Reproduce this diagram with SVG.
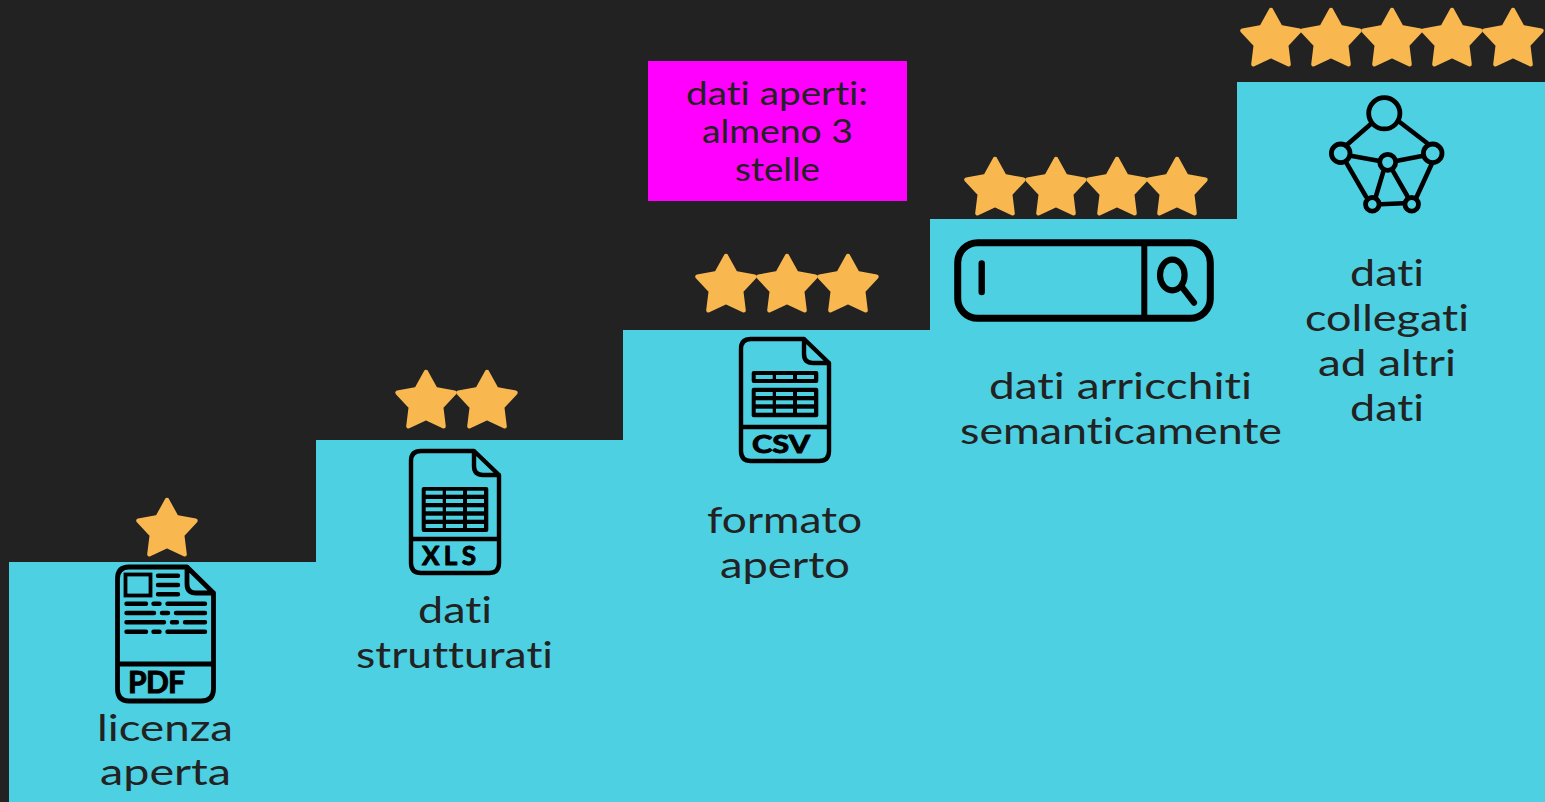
<svg xmlns="http://www.w3.org/2000/svg" xmlns:xlink="http://www.w3.org/1999/xlink" width="1545" height="802" viewBox="0 0 1545 802">
<style>
text{font-variant-ligatures:none}
.lbl{font-family:"Lato","Noto Sans",sans-serif;font-size:37px;fill:#222222}
.note{font-family:"Lato","Noto Sans",sans-serif;font-size:33px;fill:#222222}
.tag{font-family:"Lato","Liberation Sans",sans-serif;font-weight:700;fill:#000;stroke:#000;stroke-width:1;stroke-linejoin:round}
.ln{fill:none;stroke:#000;stroke-linecap:round;stroke-linejoin:round}
.s{fill:#4dd0e1}
.k{fill:#000}
.st{fill:#f9b84f;stroke:#f9b84f;stroke-width:4.4;stroke-linejoin:round}
</style>
<defs>
<path id="star" class="st" d="M0-30 9.4-12.9 28.5-9.3 15.2 4.9 17.6 24.3 0 16-17.6 24.3-15.2 4.9-28.5-9.3-9.4-12.9Z"/>
<path id="doc" class="ln" stroke-width="4.4" d="M12 2H65L90 26V114Q90 124 80 124H12Q2 124 2 114V12Q2 2 12 2ZM65 2V17Q65 26 74 26H90M2 90H90"/>
<g id="row3">
<rect class="s" x="16.7" width="17" height="4"/><rect class="s" x="37" width="17" height="4"/><rect class="s" x="58" width="17" height="4"/>
</g>
</defs>
<rect width="1545" height="802" fill="#222222"/>
<polygon id="stairs" class="s" points="9,802 9,562 316,562 316,440 623,440 623,330 930,330 930,219 1237,219 1237,82 1545,82 1545,802"/>

<g id="step1">
<use xlink:href="#star" href="#star" x="167" y="530"/>
<path class="ln" stroke-width="4.8" d="M129 567H187L213.5 593V689Q213.5 701 201 701H129Q117.5 701 117.5 689V579Q117.5 567 129 567ZM187 567V584Q187 593 196 593H213.5M117.5 664H213.5"/>
<rect x="125.5" y="574.5" width="25" height="21" fill="none" stroke="#000" stroke-width="3.8"/>
<path class="ln" stroke-width="4.4" d="M158 575.7H178M158 585H178M158 594.3H178M126.5 603.7H146M153.5 603.7H159.5M167.5 603.7H205M126.5 613H154M162 613H168M176 613H205M126.5 622.3H164M172 622.3H177M185 622.3H205M126.5 631.7H146M153.5 631.7H159.5M167.5 631.7H205"/>
<text class="tag" x="128" y="693" font-size="30" textLength="57" lengthAdjust="spacing">PDF</text>
<text class="lbl" x="97" y="741" textLength="136" lengthAdjust="spacingAndGlyphs">licenza</text>
<text class="lbl" x="100" y="785" textLength="131" lengthAdjust="spacingAndGlyphs">aperta</text>
</g>

<g id="step2">
<use xlink:href="#star" href="#star" x="426" y="402"/><use xlink:href="#star" href="#star" x="487" y="402"/>
<g transform="translate(409,449)">
<use xlink:href="#doc" href="#doc"/>
<rect class="k" x="12.7" y="38" width="66.6" height="45" rx="2"/>
<use xlink:href="#row3" href="#row3" y="41.7"/><use xlink:href="#row3" href="#row3" y="50"/><use xlink:href="#row3" href="#row3" y="58.3"/><use xlink:href="#row3" href="#row3" y="66.7"/><use xlink:href="#row3" href="#row3" y="75"/>
<text class="tag" x="13" y="116" font-size="26" textLength="54" lengthAdjust="spacing">XLS</text>
</g>
<text class="lbl" x="418" y="623" textLength="74" lengthAdjust="spacingAndGlyphs">dati</text>
<text class="lbl" x="356" y="668" textLength="197" lengthAdjust="spacingAndGlyphs">strutturati</text>
</g>

<g id="step3">
<use xlink:href="#star" href="#star" x="726" y="286"/><use xlink:href="#star" href="#star" x="787" y="286"/><use xlink:href="#star" href="#star" x="848" y="286"/>
<g transform="translate(739,337)">
<use xlink:href="#doc" href="#doc"/>
<rect class="k" x="12.7" y="34" width="66.6" height="12" rx="2"/>
<rect class="k" x="12.7" y="50.7" width="66.6" height="29.6" rx="2"/>
<use xlink:href="#row3" href="#row3" y="38"/><use xlink:href="#row3" href="#row3" y="55"/><use xlink:href="#row3" href="#row3" y="63.3"/><use xlink:href="#row3" href="#row3" y="71.7"/>
<text class="tag" x="13" y="116" font-size="25" textLength="58" lengthAdjust="spacingAndGlyphs">CSV</text>
</g>
<text class="lbl" x="707" y="533" textLength="155" lengthAdjust="spacingAndGlyphs">formato</text>
<text class="lbl" x="720" y="578" textLength="130" lengthAdjust="spacingAndGlyphs">aperto</text>
</g>

<g id="step4">
<use xlink:href="#star" href="#star" x="995" y="189"/><use xlink:href="#star" href="#star" x="1056" y="189"/><use xlink:href="#star" href="#star" x="1117" y="189"/><use xlink:href="#star" href="#star" x="1177" y="189"/>
<rect x="957.7" y="242.7" width="252.6" height="75.6" rx="20" fill="none" stroke="#000" stroke-width="7"/>
<path class="ln" stroke-width="6.4" d="M981.7 263.5V292"/>
<path d="M1144.3 242V319" stroke="#000" stroke-width="6" fill="none"/>
<ellipse cx="1172.3" cy="275" rx="12.3" ry="15.3" fill="none" stroke="#000" stroke-width="6.2"/>
<path class="ln" stroke-width="6.2" d="M1182.3 287.3 1194 302.7"/>
<text class="lbl" x="989" y="399" textLength="263" lengthAdjust="spacingAndGlyphs">dati arricchiti</text>
<text class="lbl" x="960" y="444" textLength="322" lengthAdjust="spacingAndGlyphs">semanticamente</text>
</g>

<g id="step5">
<use xlink:href="#star" href="#star" x="1271" y="40"/><use xlink:href="#star" href="#star" x="1331" y="40"/><use xlink:href="#star" href="#star" x="1392" y="40"/><use xlink:href="#star" href="#star" x="1452" y="40"/><use xlink:href="#star" href="#star" x="1513" y="40"/>
<path class="ln" stroke-width="4.6" d="M1371.7 123.3 1346.7 145M1399.3 121.7 1427.3 143.3M1350.7 155.7 1378.3 160.7M1423.3 155.7 1397.3 160.7M1346.7 163.3 1366 196.7M1431.7 164 1416.7 196.7M1383.3 171.7 1376 196M1393.3 171.7 1407.3 196M1380.7 204.3 1403.3 203.3"/>
<g fill="none" stroke="#000" stroke-width="4.8">
<circle cx="1384.3" cy="113.3" r="15.6"/>
<circle cx="1340.7" cy="153.3" r="9.3"/>
<circle cx="1432.7" cy="153.3" r="9.3"/>
<circle cx="1387.7" cy="162.3" r="8"/>
<circle cx="1372.3" cy="204.3" r="6.8"/>
<circle cx="1411.7" cy="204.3" r="6.8"/>
</g>
<text class="lbl" x="1350" y="286" textLength="74" lengthAdjust="spacingAndGlyphs">dati</text>
<text class="lbl" x="1305" y="331" textLength="164" lengthAdjust="spacingAndGlyphs">collegati</text>
<text class="lbl" x="1318" y="376" textLength="138" lengthAdjust="spacingAndGlyphs">ad altri</text>
<text class="lbl" x="1350" y="421" textLength="74" lengthAdjust="spacingAndGlyphs">dati</text>
</g>

<g id="note">
<rect x="648" y="61" width="259" height="140" fill="#ff00ff"/>
<text class="note" x="686" y="105" textLength="182" lengthAdjust="spacingAndGlyphs">dati aperti:</text>
<text class="note" x="702" y="143" textLength="151" lengthAdjust="spacingAndGlyphs">almeno 3</text>
<text class="note" x="735" y="181" textLength="85" lengthAdjust="spacingAndGlyphs">stelle</text>
</g>
</svg>
